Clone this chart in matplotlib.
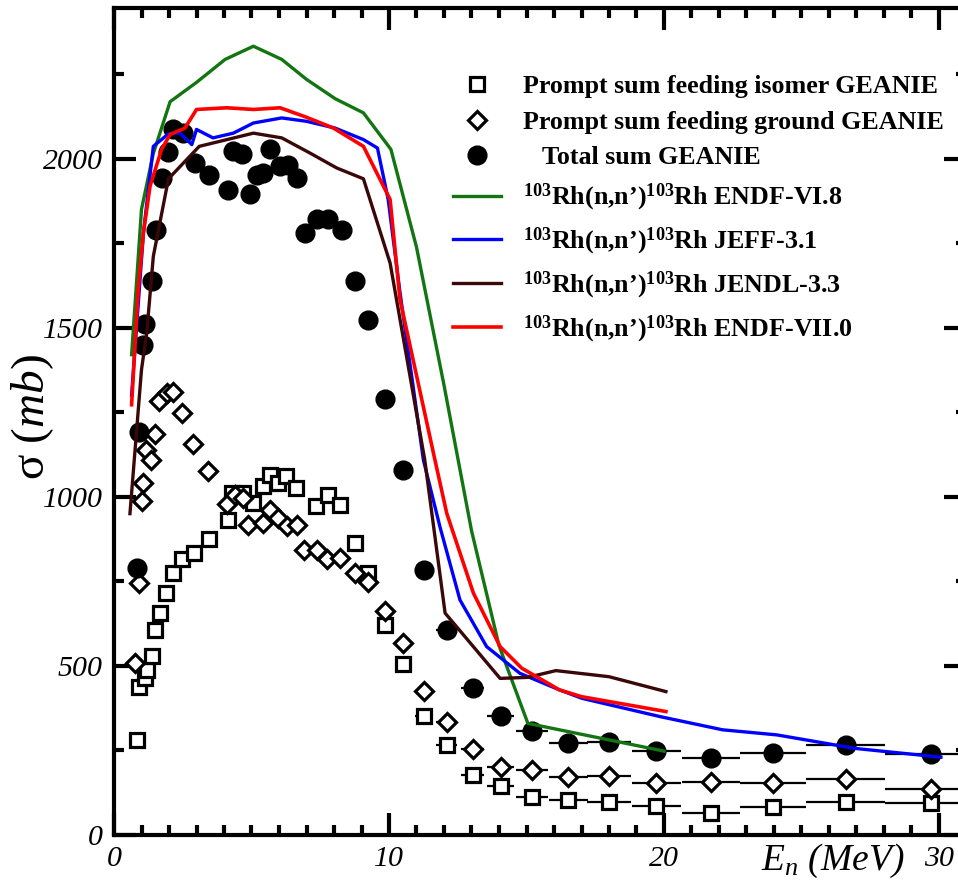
import matplotlib.pyplot as plt
from matplotlib.ticker import MultipleLocator

plt.rcParams['font.family'] = 'Liberation Serif'
plt.rcParams['mathtext.fontset'] = 'custom'
plt.rcParams['mathtext.rm'] = 'Liberation Serif'
plt.rcParams['mathtext.it'] = 'Liberation Serif:italic'
plt.rcParams['mathtext.bf'] = 'Liberation Serif:bold'

# GEANIE prompt sums, fine energy grid (bins narrower than the markers)
e_iso = [0.82, 0.92, 1.13, 1.19, 1.37, 1.49, 1.67, 1.89, 2.16, 2.46, 2.9, 3.44,
         4.16, 4.3, 4.7, 5.07, 5.4, 5.67, 5.98, 6.26, 6.6, 7.33, 7.79, 8.22, 8.76]
iso = [281, 438, 463, 488, 530, 606, 657, 716, 774, 816, 833, 875,
       930, 1012, 1012, 981, 1033, 1064, 1040, 1060, 1026, 974, 1004, 976, 863]

e_ground = [0.76, 0.92, 1.0, 1.07, 1.16, 1.33, 1.49, 1.65, 1.92, 2.16, 2.46, 2.88,
            3.43, 4.1, 4.4, 4.7, 4.88, 5.4, 5.67, 5.98, 6.28, 6.64, 6.91, 7.37,
            7.73, 8.22, 8.76]
ground = [509, 744, 986, 1042, 1139, 1109, 1186, 1282, 1306, 1311, 1249, 1157,
          1075, 979, 1005, 996, 917, 922, 962, 936, 914, 917, 843, 843,
          816, 818, 776]

e_total = [0.82, 0.92, 1.07, 1.13, 1.37, 1.53, 1.73, 1.98, 2.16, 2.52, 2.95, 3.47,
           4.16, 4.34, 4.64, 4.95, 5.19, 5.43, 5.67, 6.04, 6.34, 6.64, 6.95, 7.37,
           7.79, 8.28, 8.76]
total = [789, 1190, 1450, 1512, 1637, 1790, 1942, 2018, 2087, 2075, 1987, 1950,
         1908, 2021, 2012, 1896, 1950, 1958, 2027, 1977, 1982, 1943, 1780, 1820,
         1820, 1790, 1637]

# GEANIE prompt sums, wide energy bins shared by all three sums
e_bin = [9.25, 9.85, 10.52, 11.28, 12.1, 13.04, 14.06, 15.2, 16.52, 18.0,
         19.72, 21.7, 23.97, 26.6, 29.7]
e_bin_err = [0.15, 0.2, 0.25, 0.32, 0.38, 0.42, 0.5, 0.6, 0.7, 0.8,
             0.9, 1.05, 1.2, 1.45, 1.65]
iso_bin = [774, 621, 506, 353, 266, 178, 146, 113, 102, 97, 86, 64, 84, 99, 96]
ground_bin = [749, 661, 567, 427, 335, 253, 202, 192, 170, 175, 155, 156, 155, 165, 135]
total_bin = [1524, 1288, 1078, 784, 606, 434, 353, 306, 272, 276, 248, 228, 242, 265, 238]

# evaluated 103Rh(n,n')103Rh cross sections
endf68_e = [0.64, 1.0, 1.43, 2.04, 3.0, 4.04, 5.07, 6.1, 7.0, 8.04, 9.07, 10.07,
            11.0, 12.0, 13.0, 14.0, 15.05, 20.0]
endf68 = [1420, 1850, 2015, 2168, 2225, 2293, 2332, 2293, 2234, 2177, 2135, 2027,
          1738, 1330, 900, 560, 330, 248]

jeff31_e = [0.64, 1.07, 1.43, 1.98, 2.4, 2.83, 3.0, 3.6, 4.34, 5.07, 6.1, 7.0,
            8.04, 9.07, 9.58, 9.97, 10.4, 11.25, 11.85, 12.58, 13.55, 14.76, 16.2,
            17.02, 19.86, 22.13, 24.1, 26.95, 30.07]
jeff31 = [1300, 1780, 2036, 2073, 2075, 2041, 2086, 2061, 2075, 2105, 2120, 2110,
          2090, 2056, 2031, 1879, 1604, 1109, 912, 695, 557, 478, 429,
          404, 350, 311, 296, 256, 230]

jendl33_e = [0.58, 1.0, 1.19, 1.43, 1.98, 3.1, 5.07, 6.1, 7.13, 8.1, 9.07, 10.04,
             11.3, 12.04, 14.04, 15.04, 16.07, 18.0, 20.07]
jendl33 = [950, 1376, 1484, 1711, 1940, 2036, 2075, 2061, 2016, 1972, 1940, 1691,
           1109, 656, 463, 466, 486, 468, 424]

endf70_e = [0.64, 0.88, 1.07, 1.31, 1.73, 2.04, 2.58, 3.0, 4.1, 5.07, 6.04, 7.0,
            7.98, 9.07, 10.04, 10.4, 11.67, 12.1, 13.07, 14.04, 14.83, 16.2, 17.0, 20.07]
endf70 = [1272, 1612, 1780, 1918, 2027, 2071, 2090, 2145, 2150, 2145, 2150, 2122,
          2090, 2036, 1879, 1583, 1109, 951, 715, 557, 493, 429, 409, 365]

fig = plt.figure(figsize=(9.58, 8.91), dpi=100)
ax = fig.add_axes([114 / 958, 56 / 891, 852.5 / 958, 827 / 891])

# horizontal bars for the energy bins
for vals in (iso_bin, ground_bin, total_bin):
    ax.errorbar(e_bin, vals, xerr=e_bin_err, fmt='none', ecolor='black',
                elinewidth=1.6, capsize=0, zorder=2)

ax.plot(e_iso + e_bin, iso + iso_bin, ls='none', marker='s', ms=10.5, mfc='white',
        mec='black', mew=2.3, zorder=3, label='Prompt sum feeding isomer GEANIE')
ax.plot(e_ground + e_bin, ground + ground_bin, ls='none', marker='D', ms=9.5,
        mfc='white', mec='black', mew=2.3, zorder=3,
        label='Prompt sum feeding ground GEANIE')
ax.plot(e_total + e_bin, total + total_bin, ls='none', marker='o', ms=13.5,
        color='black', zorder=3, label='   Total sum GEANIE')

rh = r"$^{\mathbf{103}}$Rh(n,n’)$^{\mathbf{103}}$Rh "
ax.plot(endf68_e, endf68, color='#127512', lw=2.4, zorder=4, label=rh + 'ENDF-VI.8')
ax.plot(jeff31_e, jeff31, color='#0000ff', lw=2.4, zorder=4, label=rh + 'JEFF-3.1')
ax.plot(jendl33_e, jendl33, color='#3a0808', lw=2.4, zorder=4, label=rh + 'JENDL-3.3')
ax.plot(endf70_e, endf70, color='#ff0000', lw=2.6, zorder=4, label=rh + 'ENDF-VII.0')

ax.set_xlim(0, 31)
ax.set_ylim(0, 2445)
ax.xaxis.set_major_locator(MultipleLocator(10))
ax.xaxis.set_minor_locator(MultipleLocator(1))
ax.yaxis.set_major_locator(MultipleLocator(500))
ax.yaxis.set_minor_locator(MultipleLocator(250))
ax.tick_params(which='both', direction='in', top=True, right=True, width=3)
ax.tick_params(which='major', length=16, labelsize=21.5, pad=8)
ax.tick_params(which='minor', length=7.5)
for lbl in ax.get_xticklabels() + ax.get_yticklabels():
    lbl.set_fontstyle('italic')
for sp in ax.spines.values():
    sp.set_linewidth(3)

ax.set_ylabel(r'$\mathrm{σ}\ \mathit{(mb)}$', fontsize=34)
ax.yaxis.set_label_coords(-0.068, 0.505)
ax.set_xlabel(r'$E_n$ (MeV)', fontsize=27, fontstyle='italic')
ax.xaxis.set_label_coords(0.843, -0.008)

ax.legend(loc='upper left', bbox_to_anchor=(0.398, 0.919), frameon=False,
          prop={'family': 'Liberation Serif', 'weight': 'bold', 'size': 18.7},
          handlelength=1.85, handletextpad=0.85, borderpad=0, borderaxespad=0,
          labelspacing=0.48, numpoints=1)

fig.savefig('out.png', dpi=100)
